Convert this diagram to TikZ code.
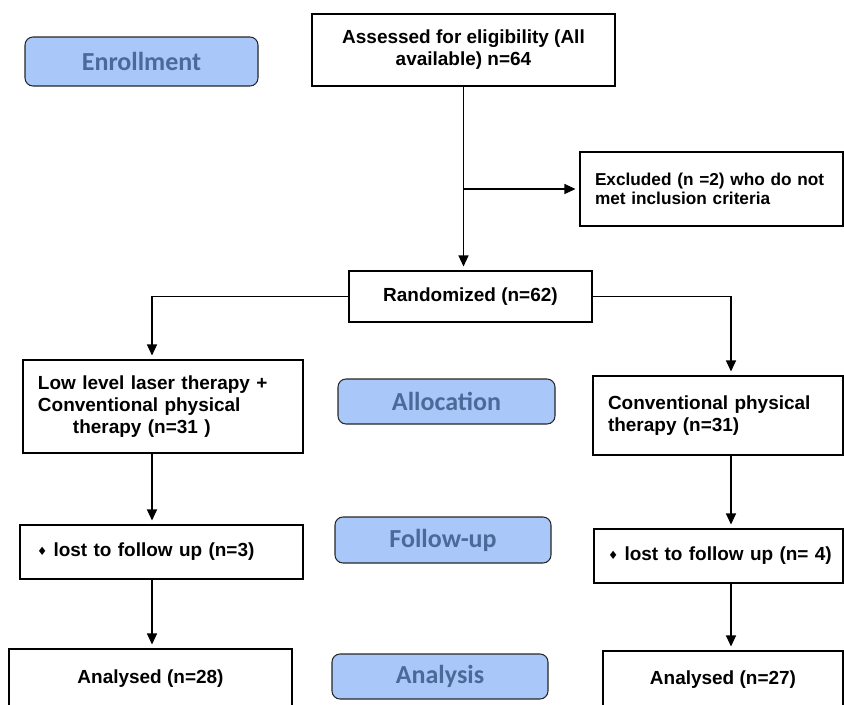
\documentclass[tikz,border=0pt]{standalone}
\usepackage{fontspec}
\setmainfont{Liberation Sans}
\newfontfamily\stagefont{Carlito}
\newfontfamily\symfont{DejaVu Sans}
\usetikzlibrary{arrows.meta}
\definecolor{stageblue}{HTML}{A9C7F9}
\definecolor{stagetext}{HTML}{4A6B9A}
\newcommand{\lostmark}{{\symfont\fontsize{6.5}{6.5}\selectfont\raisebox{0.15ex}{♦}}}

\begin{document}
\begin{tikzpicture}[
            box/.style={draw, line width=0.6pt, inner sep=0pt,
                    font=\bfseries\fontsize{10.8}{12.6}\selectfont},
            lbox/.style={box, align=left, inner xsep=0.3cm},
            stage/.style={draw=black!85, line width=0.6pt, rounded corners=0.16cm,
                    fill=stageblue, text=stagetext, inner sep=0pt,
                    font=\stagefont\bfseries\fontsize{14.8}{16}\selectfont},
            arrow/.style={-{Triangle[length=0.22cm, width=0.2cm]}, line width=0.6pt, shorten >=0.08cm}
        ]
        \clip (0,0) rectangle (16.88,-14.08);
        \node[stage, minimum width=4.66cm, minimum height=0.98cm] (enrol) at (2.83,-1.23) {Enrollment};
        \node[box, align=center, minimum width=6.06cm, minimum height=1.44cm] (assess) at (9.27,-1.0) {Assessed for eligibility (All\\available) n=64};
        \node[lbox, text width=4.66cm, minimum height=1.48cm, font=\bfseries\fontsize{9.8}{10.6}\selectfont] (excl) at (14.23,-3.78) {Excluded (n =2) who do not\\met inclusion criteria};
        \node[box, minimum width=4.86cm, minimum height=1.02cm] (random) at (9.41,-5.93) {Randomized (n=62)};
        \node[lbox, text width=5.0cm, minimum height=1.86cm] (laser) at (3.26,-8.13) {Low level laser therapy +\\Conventional physical\\\hspace*{0.7cm}therapy (n=31 )};
        \node[stage, minimum width=4.34cm, minimum height=0.9cm] (alloc) at (8.93,-8.03) {Allocation};
        \node[lbox, text width=4.4cm, minimum height=1.58cm] (conv) at (14.36,-8.31) {Conventional physical\\therapy (n=31)};
        \node[lbox, inner xsep=0.34cm, text width=4.98cm, minimum height=1.08cm] (lostA) at (3.23,-11.04) {\lostmark\ lost to follow up (n=3)};
        \node[stage, minimum width=4.32cm, minimum height=0.92cm] (follow) at (8.86,-10.8) {Follow-up};
        \node[lbox, inner xsep=0.12cm, text width=4.74cm, minimum height=1.08cm] (lostB) at (14.37,-11.12) {\hspace*{0.16cm}\lostmark\ lost to follow up (n= 4)};
        \node[box, minimum width=5.66cm, minimum height=1.18cm] (anaA) at (3.01,-13.57) {Analysed (n=28)};
        \node[stage, minimum width=4.32cm, minimum height=0.9cm] (analysis) at (8.8,-13.53) {Analysis};
        \node[box, minimum width=4.8cm, minimum height=1.14cm] (anaB) at (14.46,-13.59) {Analysed (n=27)};

        \coordinate (colL) at (3.04,0);
        \coordinate (colR) at (14.62,0);

        \draw[arrow] (assess.south) -- (assess.south |- random.north);
        \draw[arrow] (assess.south |- excl.west) -- (excl.west);
        \draw[arrow] (random.west) -| (colL |- laser.north);
        \draw[arrow] (random.east) -| (colR |- conv.north);
        \draw[arrow] (colL |- laser.south) -- (colL |- lostA.north);
        \draw[arrow] (colL |- lostA.south) -- (colL |- anaA.north);
        \draw[arrow] (colR |- conv.south) -- (colR |- lostB.north);
        \draw[arrow] (colR |- lostB.south) -- (colR |- anaB.north);
    \end{tikzpicture}
\end{document}
